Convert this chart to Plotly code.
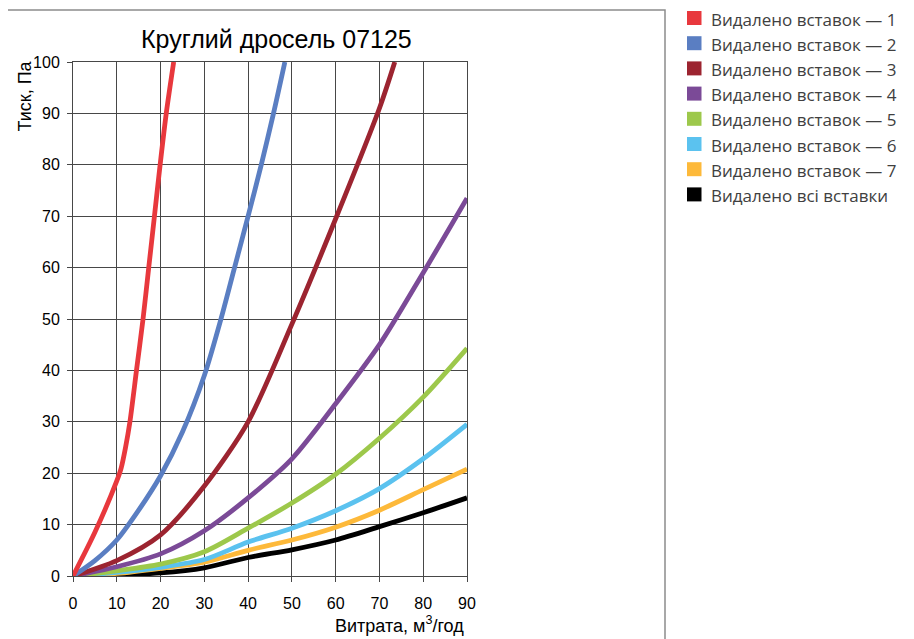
import plotly.graph_objects as go

# ---- data ----
names = ["Видалено вставок — 1", "Видалено вставок — 2", "Видалено вставок — 3",
         "Видалено вставок — 4", "Видалено вставок — 5", "Видалено вставок — 6",
         "Видалено вставок — 7", "Видалено всі вставки"]
colors = ["#E8383D", "#5A7EC2", "#9C2430", "#7B4A97", "#9DC84B", "#5BC2EF", "#FDB93A", "#000000"]

x1 = [0, 5, 10, 11, 12, 13, 14.5, 16, 17.3, 18.6, 19.9, 21.3, 23.0]
y1 = [0, 8.5, 18.5, 21, 25, 30, 40, 50, 60, 70, 80, 90, 100]

x2 = [0, 5, 10, 15, 20, 25, 30, 33.8, 36.9, 40, 43.0, 45.8, 48.4]
y2 = [0, 3, 7, 12.8, 19.5, 28, 39, 50, 60, 70, 80, 90, 100]

x3 = [0, 10, 20, 30, 40, 50, 60, 70, 73.5]
y3 = [0, 3, 8, 17.5, 30, 49, 69.5, 91, 100]

x_full = [0, 10, 20, 30, 40, 50, 60, 70, 80, 90]
y4 = [0, 1.8, 4.3, 8.8, 15.2, 22.8, 33.5, 45, 59, 73.5]
y5 = [0, 1.0, 2.3, 4.7, 9.3, 14.2, 19.8, 26.8, 34.8, 44.3]
y6 = [0, 0.7, 1.7, 3.2, 6.6, 9.3, 12.7, 17.0, 22.8, 29.5]
y7 = [0, 0.5, 1.5, 2.7, 5.0, 7.0, 9.5, 12.8, 16.8, 20.8]
y8 = [0, 0.2, 0.6, 1.6, 3.6, 5.1, 7.0, 9.6, 12.3, 15.2]

series = [(x1, y1), (x2, y2), (x3, y3), (x_full, y4), (x_full, y5),
          (x_full, y6), (x_full, y7), (x_full, y8)]

x_ticks = list(range(0, 91, 10))
y_ticks = list(range(0, 101, 10))

# page body has an 8px margin: work in screen pixels and shift by it
OFF = 8
FW, FH = 914 - 2 * OFF, 639 - OFF
# plot area in screen pixels
L, R, T, B = 73, 467, 62, 576
W, H = R - L, B - T


def xp(px):
    return (px - L) / W


def yp(py):
    return (B - py) / H


fig = go.Figure()
for i in reversed(range(len(series))):
    xs, ys = series[i]
    fig.add_trace(go.Scatter(x=xs, y=ys, mode="lines", name=names[i],
                             line=dict(color=colors[i], width=4.8, shape="spline", smoothing=0.8),
                             showlegend=False, hoverinfo="skip"))

shapes = [dict(type="rect", xref="paper", yref="paper",
               x0=xp(5), x1=xp(665), y0=yp(660), y1=yp(10),
               line=dict(color="#8c8c8c", width=1.5), fillcolor="rgba(0,0,0,0)", layer="below")]
annotations = [
    dict(text="Круглий дросель 07125", xref="paper", yref="paper", x=xp(276), y=yp(39),
         showarrow=False, xanchor="center", yanchor="middle",
         font=dict(size=25, color="#000000", family="Liberation Sans, sans-serif")),
    dict(text="Тиск, Па", xref="paper", yref="paper", x=xp(24.5), y=yp(96),
         textangle=-90, showarrow=False, xanchor="center", yanchor="middle",
         font=dict(size=18, family="Liberation Sans, sans-serif")),
    dict(text="Витрата, м<sup>3</sup>/год", xref="paper", yref="paper", x=xp(466), y=yp(624),
         showarrow=False, xanchor="right", yanchor="middle",
         font=dict(size=18, family="Liberation Sans, sans-serif")),
]

# legend (square swatches + labels), outside the chart frame like the reference
for i, nm in enumerate(names):
    cy = 18 + 25.2 * i
    shapes.append(dict(type="rect", xref="paper", yref="paper",
                       x0=xp(687), x1=xp(701.5), y0=yp(cy + 7), y1=yp(cy - 7),
                       line=dict(width=0), fillcolor=colors[i]))
    annotations.append(dict(text=nm, xref="paper", yref="paper", x=xp(710), y=yp(cy + 1),
                            showarrow=False, xanchor="left", yanchor="middle", borderpad=0,
                            font=dict(size=17, color="#404040", family="Open Sans, sans-serif")))

grid = "#474747"
fig.update_layout(
    width=FW, height=FH,
    margin=dict(l=L - OFF, r=FW - (R - OFF), t=T - OFF, b=FH - (B - OFF), autoexpand=False),
    paper_bgcolor="white", plot_bgcolor="white",
    font=dict(family="Liberation Sans, sans-serif", color="#000000"),
    showlegend=False,
    xaxis=dict(range=[0, 90], tickvals=x_ticks, showgrid=True, gridcolor=grid, gridwidth=1,
               showline=True, linecolor=grid, linewidth=1, mirror=True, zeroline=False,
               ticks="outside", ticklen=5, tickcolor=grid, ticklabelstandoff=8,
               tickfont=dict(size=16), fixedrange=True),
    yaxis=dict(range=[0, 100], tickvals=y_ticks, showgrid=True, gridcolor=grid, gridwidth=1,
               showline=True, linecolor=grid, linewidth=1, mirror=True, zeroline=False,
               ticks="outside", ticklen=5, tickcolor=grid, ticklabelstandoff=4,
               tickfont=dict(size=16), fixedrange=True),
    shapes=shapes,
    annotations=annotations,
)
fig.write_html("out.html")
